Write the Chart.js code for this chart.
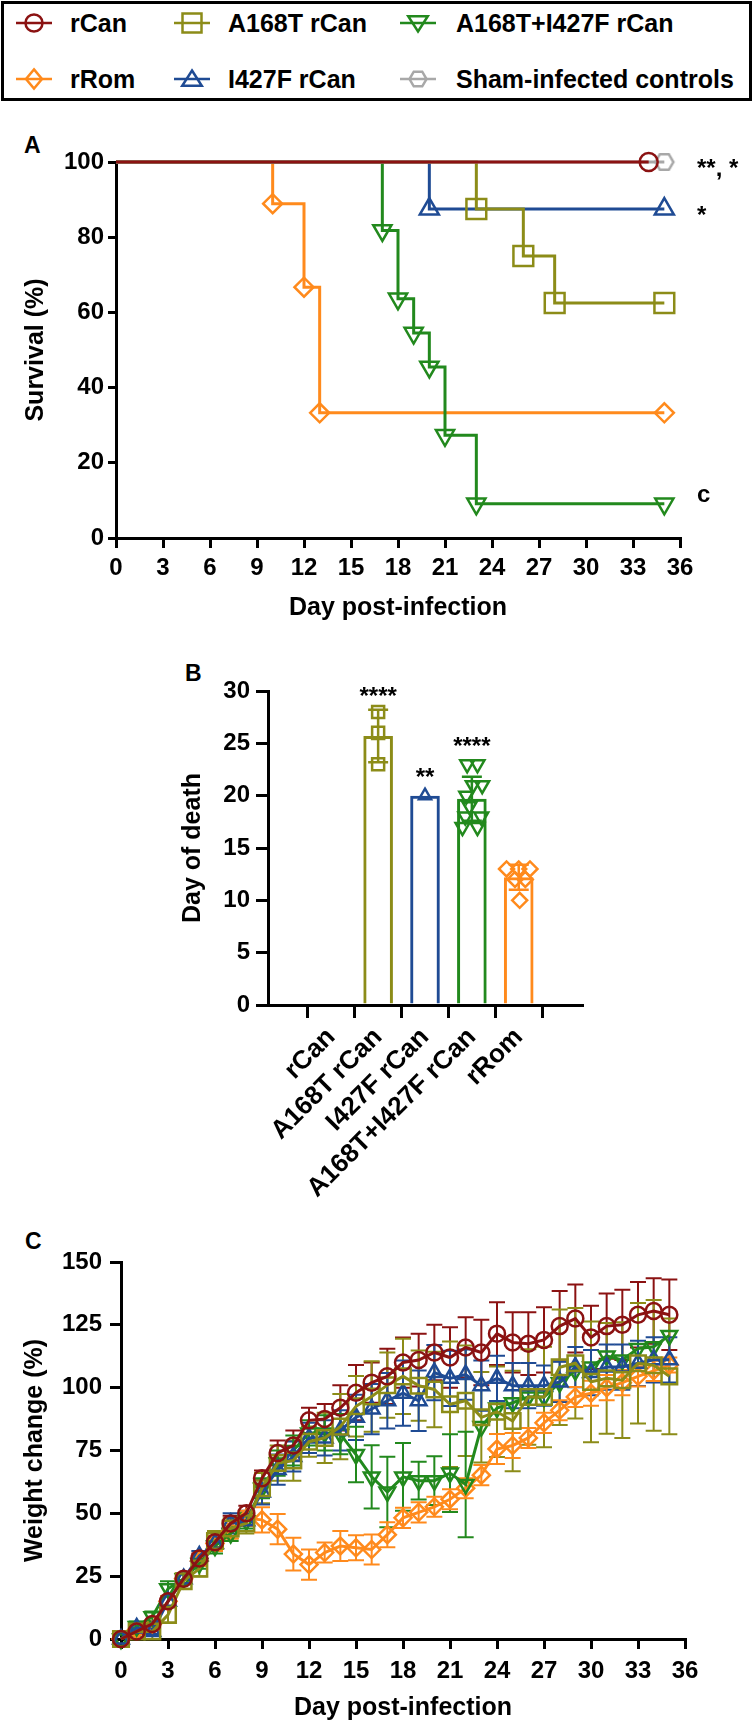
<!DOCTYPE html>
<html lang="en">
<head>
<meta charset="UTF-8">
<title>rCan / rRom survival, day of death and weight change</title>
<script src="https://cdn.jsdelivr.net/npm/chart.js@4.4.1/dist/chart.umd.min.js"></script>
<style>
  body { margin: 0; background: #fff; }
  #page { position: relative; width: 753px; height: 1723px; overflow: hidden;
          font-family: "Liberation Sans", Arial, sans-serif; font-weight: bold; color: #000; }
  .legend { position: absolute; left: 1px; top: 1px; width: 745px; height: 94px; border: 3px solid #000; }
  .item { position: absolute; height: 30px; }
  .item canvas { position: absolute; left: 0; top: 0; }
  .item span { position: absolute; top: 0; font-size: 25px; line-height: 30px; white-space: nowrap; }
  .plabel { position: absolute; font-size: 23px; line-height: 26px; }
  .chart { position: absolute; left: 0; }
</style>
</head>
<body>
<div id="page">
  <div class="legend" id="legend"></div>

  <div class="plabel" style="left:24px;top:132px;">A</div>
  <canvas id="chartA" class="chart" width="753" height="505" style="top:125px;"></canvas>

  <div class="plabel" style="left:185px;top:660px;">B</div>
  <canvas id="chartB" class="chart" width="753" height="580" style="top:640px;"></canvas>

  <div class="plabel" style="left:25px;top:1228px;">C</div>
  <canvas id="chartC" class="chart" width="753" height="503" style="top:1220px;"></canvas>
</div>

<script>
// ---------- colours ----------
var colRCan = '#8b1212';
var colA168T = '#8c8c18';
var colDouble = '#22891d';
var colRRom = '#ff8a1c';
var colI427F = '#1f4b94';
var colSham = '#a8a8a8';

// ---------- legend ----------
var legendNames = ['rCan', 'A168T rCan', 'A168T+I427F rCan', 'rRom', 'I427F rCan', 'Sham-infected controls'];
var legendColors = [colRCan, colA168T, colDouble, colRRom, colI427F, colSham];
var legendStyles = ['circle', 'rect', 'triangleDown', 'diamond', 'triangle', 'hexagon'];

// ---------- A: survival (Kaplan-Meier steps) ----------
var survRCanX = [0, 34];
var survRCanY = [100, 100];
var survShamX = [0, 35];
var survShamY = [100, 100];
var survRRomX = [0, 10, 12, 13, 35];
var survRRomY = [100, 88.9, 66.7, 33.3, 33.3];
var survA168TX = [0, 23, 26, 28, 35];
var survA168TY = [100, 87.5, 75, 62.5, 62.5];
var survI427FX = [0, 20, 35];
var survI427FY = [100, 87.5, 87.5];
var survDoubleX = [0, 17, 18, 19, 20, 21, 23, 35];
var survDoubleY = [100, 81.8, 63.6, 54.5, 45.5, 27.3, 9.1, 9.1];
var survNoteText = ['**, *', '*', 'c'];
var survNoteLevel = [100, 87.5, 9.1];

// ---------- B: day of death ----------
var deathGroups = ['rCan', 'A168T rCan', 'I427F rCan', 'A168T+I427F rCan', 'rRom'];
var deathMean = [null, 25.7, 20, 19.7, 12.2];
var deathSD = [0, 2.5, 0, 2.1, 1.2];
var deathA168T = [23, 26, 28];
var deathI427F = [20];
var deathDouble = [17, 17, 18, 18, 19, 20, 21, 21, 23, 23];
var jitterDouble = [-0.2, 0.12, -0.14, 0.2, -0.05, -0.12, 0.02, 0.22, -0.1, 0.12];
var deathRRom = [10, 12, 12, 13, 13, 13];
var jitterRRom = [0.02, -0.08, 0.14, -0.26, 0, 0.24];
var deathSig = ['', '****', '**', '****', ''];
var deathSigLevel = [null, 30.1, 22.3, 25.3, null];

// ---------- C: weight change ----------
var weightDays = [0, 1, 2, 3, 4, 5, 6, 7, 8, 9, 10, 11, 12, 13, 14, 15, 16, 17,
                  18, 19, 20, 21, 22, 23, 24, 25, 26, 27, 28, 29, 30, 31, 32, 33, 34, 35];
var wRCan = [0, 3, 6, 15, 24, 32, 38.5, 46, 50, 64, 74, 77, 87, 87.5, 92, 98, 102, 104.5,
             110, 111, 114, 112, 116, 114, 121.5, 118, 117.5, 119, 124.5, 127.5, 120, 124.5, 125, 129, 130.5, 129];
var wRCanSD = [0, 1, 1, 2, 2, 2, 2, 3, 3, 3, 5, 6, 5, 6, 9, 11, 8, 11,
               10, 10.5, 11, 12, 12, 13, 12.5, 12, 12.5, 13, 14, 13.5, 12.6, 13, 14, 13, 13, 14];
var wA168T = [0, 3, 3, 9.6, 23, 28, 39, 44, 46, 60, 70, 71, 78.5, 80, 84.5, 92.6, 96.5, 101,
              104.5, 100.8, 99.3, 93.4, 94.8, 88.2, 90.4, 86.7, 96.3, 96.3, 108.1, 109.7, 102.3, 103.7, 103, 109.7, 108.9, 104.5];
var wA168TSD = [0, 2, 3, 3, 3, 3, 4, 4, 4, 6, 7, 8, 6, 10, 13, 12, 14, 13,
                15, 14, 15, 25, 22, 18, 18, 20, 19, 20, 23, 22, 24, 22, 23, 24, 26, 23];
var wI427F = [0, 4.4, 3, 15, 24, 33, 38, 46, 47, 58.5, 67.4, 72.6, 80, 80, 83, 88.2, 91.5, 94.8,
              97.8, 94.8, 106, 103.7, 105.2, 100.8, 103.7, 100.8, 100.8, 100.8, 102.3, 108.2, 106, 108.2, 108.2, 109.7, 111.1, 111.1];
var wI427FSD = [0, 1, 1, 2, 2, 2, 3, 4, 4, 5, 6, 6, 6, 7, 8, 9, 10, 11,
                13, 12, 11, 11, 10, 10, 9, 9, 9, 8, 8, 8, 9, 9, 9, 9, 9, 9];
var wDouble = [0, 5, 8.9, 20, 24, 30, 37, 42, 47, 60, 70, 75, 82, 82, 81.5, 73.4, 64.5, 58.5,
               64.5, 63, 63, 66, 61.5, 84.5, 91.9, 94, 96.3, 96.3, 102, 106.7, 108.2, 112.6, 111, 115.6, 116.3, 120.8];
var wDoubleSD = [0, 2, 2, 3, 2, 2, 3, 3, 3, 4, 5, 6, 5, 7, 8, 11, 12.6, 14,
                 13.5, 7.5, 9.7, 15.5, 21, 0, 0, 0, 0, 0, 0, 0, 0, 0, 0, 0, 0, 0];
var wRRom = [0, 3.7, 6, 15, 24, 31, 38, 43, 48, 47.4, 43.7, 33.8, 29.6, 34.4, 37, 36.3, 35.6, 41.5,
             48.2, 50.4, 52.6, 55.6, 60, 65.2, 75.6, 77, 80, 86, 91, 96.3, 97.8, 100, 102, 104.5, 106.7, 109];
var wRRomSD = [0, 1, 1, 2, 2, 2, 3, 3, 3, 5, 6, 6.5, 6, 4, 6, 5, 6, 5,
               4, 4, 4, 4, 4, 4, 6, 5, 4, 4, 4, 4, 5, 5, 5, 4, 4, 3];

// ---------- helpers ----------
var FONT = '"Liberation Sans", Arial, sans-serif';
Chart.defaults.font.family = FONT;
Chart.defaults.font.weight = 'bold';
Chart.defaults.color = '#000';

// open marker used in the legend and for the hexagon point style
function drawSymbol(g, style, x, y, r, color, lw) {
  g.save();
  g.strokeStyle = color;
  g.lineWidth = lw;
  g.beginPath();
  if (style === 'circle') {
    g.arc(x, y, r, 0, Math.PI * 2);
  } else if (style === 'rect') {
    g.rect(x - r, y - r, 2 * r, 2 * r);
  } else if (style === 'diamond') {
    g.moveTo(x, y - r * 1.2); g.lineTo(x + r, y); g.lineTo(x, y + r * 1.2); g.lineTo(x - r, y);
  } else if (style === 'triangle') {
    g.moveTo(x, y - r); g.lineTo(x + r * 1.15, y + r * 0.8); g.lineTo(x - r * 1.15, y + r * 0.8);
  } else if (style === 'triangleDown') {
    g.moveTo(x, y + r); g.lineTo(x + r * 1.15, y - r * 0.8); g.lineTo(x - r * 1.15, y - r * 0.8);
  } else if (style === 'hexagon') {
    for (var k = 0; k < 6; k++) {
      var a = k * Math.PI / 3;
      if (k === 0) g.moveTo(x + r * Math.cos(a), y + r * Math.sin(a));
      else g.lineTo(x + r * Math.cos(a), y + r * Math.sin(a));
    }
  }
  g.closePath();
  g.stroke();
  g.restore();
}

function hexagonImage(color, r) {
  var c = document.createElement('canvas');
  c.width = c.height = 2 * r + 6;
  drawSymbol(c.getContext('2d'), 'hexagon', r + 3, r + 3, r, color, 2.5);
  return c;
}

// legend boxes
var legendCols = [16, 174, 400];
var legendText = [70, 228, 456];
var legendRows = [23, 79];
var legendEl = document.getElementById('legend');
legendNames.forEach(function (name, i) {
  var col = i % 3, row = Math.floor(i / 3);
  var div = document.createElement('div');
  div.className = 'item';
  div.style.left = (legendCols[col] - 4) + 'px';
  div.style.top = (legendRows[row] - 15 - 4) + 'px';
  var cv = document.createElement('canvas');
  cv.width = 44; cv.height = 30;
  var g = cv.getContext('2d');
  g.strokeStyle = legendColors[i];
  g.lineWidth = 2.5;
  g.beginPath(); g.moveTo(0, 15); g.lineTo(36, 15); g.stroke();
  var r = legendStyles[i] === 'rect' ? 9.5 : (legendStyles[i] === 'diamond' ? 8 : 8.5);
  drawSymbol(g, legendStyles[i], 18, 15, r, legendColors[i], 2.5);
  var sp = document.createElement('span');
  sp.textContent = name;
  sp.style.left = (legendText[col] - legendCols[col]) + 'px';
  div.appendChild(cv);
  div.appendChild(sp);
  legendEl.appendChild(div);
});

function pts(xs, ys) {
  return xs.map(function (x, i) { return { x: x, y: ys[i] }; });
}

function axisBase(size) {
  return {
    border: { display: true, width: 3, color: '#000' },
    grid: { display: true, drawOnChartArea: false, drawTicks: true, tickLength: size, color: '#000', lineWidth: 3 },
    ticks: { color: '#000', font: { size: 24, weight: 'bold' } }
  };
}

// error bars (mean +/- SD) read from dataset.sd
var errorBarPlugin = {
  id: 'errorBars',
  draw: function (chart, opts) {
    var ctx = chart.ctx, xs = chart.scales.x, ys = chart.scales.y;
    chart.data.datasets.forEach(function (ds) {
      if (!ds.sd) return;
      ds.data.forEach(function (p, i) {
        var sd = ds.sd[i];
        if (!sd || p.y == null) return;
        var x = xs.getPixelForValue(p.x);
        var top = ys.getPixelForValue(p.y + sd);
        var bot = ys.getPixelForValue(p.y - sd);
        ctx.save();
        ctx.strokeStyle = Array.isArray(ds.borderColor) ? ds.borderColor[i] : ds.borderColor;
        ctx.lineWidth = opts.width;
        ctx.beginPath();
        ctx.moveTo(x, top); ctx.lineTo(x, bot);
        ctx.moveTo(x - opts.cap, top); ctx.lineTo(x + opts.cap, top);
        ctx.moveTo(x - opts.cap, bot); ctx.lineTo(x + opts.cap, bot);
        ctx.stroke();
        ctx.restore();
      });
    });
  },
  beforeDatasetsDraw: function (chart, args, opts) { if (!opts.front) this.draw(chart, opts); },
  afterDatasetsDraw: function (chart, args, opts) { if (opts.front) this.draw(chart, opts); }
};

// ---------- chart A ----------
function survivalSet(label, xs, ys, color, style, radius, rot, order) {
  return {
    label: label,
    data: pts(xs, ys),
    borderColor: color,
    backgroundColor: 'rgba(0,0,0,0)',
    borderWidth: 3,
    stepped: true,
    pointStyle: style,
    pointRotation: rot,
    pointRadius: xs.map(function (x, i) { return i === 0 ? 0 : radius; }),
    pointBorderWidth: 2.5,
    pointBorderColor: color,
    pointBackgroundColor: 'rgba(0,0,0,0)',
    order: order,
    clip: false
  };
}

var survNotes = {
  id: 'survNotes',
  afterDraw: function (chart) {
    var ctx = chart.ctx, ys = chart.scales.y;
    ctx.save();
    ctx.font = 'bold 24px ' + FONT;
    ctx.fillStyle = '#000';
    ctx.textAlign = 'left';
    ctx.textBaseline = 'middle';
    survNoteText.forEach(function (t, i) {
      var y = ys.getPixelForValue(survNoteLevel[i]);
      ctx.fillText(t, chart.chartArea.right + 17, t === 'c' ? y - 8 : y + 7);
    });
    ctx.restore();
  }
};

var axA_x = axisBase(10);
axA_x.type = 'linear';
axA_x.min = 0; axA_x.max = 36;
axA_x.ticks.stepSize = 3;
axA_x.ticks.padding = 6;
axA_x.ticks.maxRotation = 0;
axA_x.ticks.autoSkip = false;
axA_x.title = { display: true, text: 'Day post-infection', color: '#000',
                font: { size: 25, weight: 'bold' }, padding: { top: 0, bottom: 7 } };
axA_x.afterFit = function (s) { s.height = 92; };

var axA_y = axisBase(8);
axA_y.min = 0; axA_y.max = 100;
axA_y.ticks.stepSize = 20;
axA_y.ticks.padding = 4;
axA_y.title = { display: true, text: 'Survival (%)', color: '#000',
                font: { size: 25, weight: 'bold' }, padding: { top: 21, bottom: 0 } };
axA_y.afterFit = function (s) { s.width = 116; };

new Chart(document.getElementById('chartA'), {
  type: 'line',
  data: {
    datasets: [
      survivalSet('rCan', survRCanX, survRCanY, colRCan, 'circle', 9, 0, 1),
      survivalSet('Sham-infected controls', survShamX, survShamY, colSham, hexagonImage(colSham, 9), 9, 0, 2),
      survivalSet('A168T rCan', survA168TX, survA168TY, colA168T, 'rect', 14, 0, 3),
      survivalSet('I427F rCan', survI427FX, survI427FY, colI427F, 'triangle', 11, 0, 4),
      survivalSet('A168T+I427F rCan', survDoubleX, survDoubleY, colDouble, 'triangle', 10.5, 180, 5),
      survivalSet('rRom', survRRomX, survRRomY, colRRom, 'rectRot', 9.5, 0, 6)
    ]
  },
  options: {
    responsive: false,
    animation: false,
    layout: { padding: { top: 37, right: 73, left: 0, bottom: 0 } },
    plugins: { legend: { display: false }, tooltip: { enabled: false } },
    scales: { x: axA_x, y: axA_y }
  },
  plugins: [survNotes]
});

// ---------- chart B ----------
var deathNotes = {
  id: 'deathNotes',
  afterDraw: function (chart) {
    var ctx = chart.ctx, xs = chart.scales.x, ys = chart.scales.y;
    ctx.save();
    ctx.font = 'bold 24px ' + FONT;
    ctx.fillStyle = '#000';
    ctx.textAlign = 'center';
    ctx.textBaseline = 'middle';
    deathSig.forEach(function (t, i) {
      if (!t) return;
      ctx.fillText(t, xs.getPixelForValue(i), ys.getPixelForValue(deathSigLevel[i]) + 7);
    });
    ctx.restore();
  }
};

var groupColors = [colRCan, colA168T, colI427F, colDouble, colRRom];

function dotSet(label, groupIndex, values, jitter, color, style, radius, rot) {
  return {
    type: 'scatter',
    label: label,
    data: values.map(function (v, i) { return { x: groupIndex + (jitter ? jitter[i] : 0), y: v }; }),
    borderColor: color,
    backgroundColor: 'rgba(0,0,0,0)',
    pointStyle: style,
    pointRotation: rot,
    pointRadius: radius,
    pointBorderWidth: 2.5,
    order: 1,
    clip: false
  };
}

var axB_x = axisBase(13);
axB_x.type = 'linear';
axB_x.min = -0.68; axB_x.max = 4.68;
axB_x.ticks.stepSize = 1;
axB_x.ticks.includeBounds = false;
axB_x.ticks.autoSkip = false;
axB_x.ticks.minRotation = 45;
axB_x.ticks.maxRotation = 45;
axB_x.ticks.padding = 4;
axB_x.ticks.font = { size: 26, weight: 'bold' };
axB_x.ticks.callback = function (v) { return deathGroups[v]; };
axB_x.afterFit = function (s) { s.height = 215; };

var axB_y = axisBase(12);
axB_y.min = 0; axB_y.max = 30;
axB_y.ticks.stepSize = 5;
axB_y.ticks.padding = 6;
axB_y.title = { display: true, text: 'Day of death', color: '#000',
                font: { size: 25, weight: 'bold' }, padding: { top: 178, bottom: 0 } };
axB_y.afterFit = function (s) { s.width = 268; };

new Chart(document.getElementById('chartB'), {
  type: 'bar',
  data: {
    datasets: [
      {
        label: 'Mean day of death',
        data: deathMean.map(function (m, i) { return { x: i, y: m }; }),
        sd: deathSD,
        borderColor: groupColors,
        backgroundColor: 'rgba(0,0,0,0)',
        borderWidth: 3,
        barPercentage: 0.79,
        categoryPercentage: 0.8,
        order: 5
      },
      dotSet('A168T rCan', 1, deathA168T, null, colA168T, 'rect', 8.5, 0),
      dotSet('I427F rCan', 2, deathI427F, null, colI427F, 'triangle', 7, 0),
      dotSet('A168T+I427F rCan', 3, deathDouble, jitterDouble, colDouble, 'triangle', 8, 180),
      dotSet('rRom', 4, deathRRom, jitterRRom, colRRom, 'rectRot', 7.5, 0)
    ]
  },
  options: {
    responsive: false,
    animation: false,
    layout: { padding: { top: 51, right: 171, left: 0, bottom: 0 } },
    plugins: {
      legend: { display: false }, tooltip: { enabled: false },
      errorBars: { width: 2.5, cap: 10, front: true }
    },
    scales: { x: axB_x, y: axB_y }
  },
  plugins: [errorBarPlugin, deathNotes]
});

// ---------- chart C ----------
function weightSet(label, ys, sds, color, style, radius, rot, order) {
  return {
    label: label,
    data: pts(weightDays, ys),
    sd: sds,
    borderColor: color,
    backgroundColor: 'rgba(0,0,0,0)',
    borderWidth: 3,
    pointStyle: style,
    pointRotation: rot,
    pointRadius: radius,
    pointBorderWidth: 2.5,
    pointBorderColor: color,
    pointBackgroundColor: 'rgba(0,0,0,0)',
    order: order,
    clip: false
  };
}

var axC_x = axisBase(10);
axC_x.type = 'linear';
axC_x.min = 0; axC_x.max = 36;
axC_x.ticks.stepSize = 3;
axC_x.ticks.padding = 8;
axC_x.ticks.maxRotation = 0;
axC_x.ticks.autoSkip = false;
axC_x.title = { display: true, text: 'Day post-infection', color: '#000',
                font: { size: 25, weight: 'bold' }, padding: { top: 0, bottom: 0 } };
axC_x.afterFit = function (s) { s.height = 84; };

var axC_y = axisBase(11);
axC_y.min = 0; axC_y.max = 150;
axC_y.ticks.stepSize = 25;
axC_y.ticks.padding = 8;
axC_y.title = { display: true, text: 'Weight change (%)', color: '#000',
                font: { size: 25, weight: 'bold' }, padding: { top: 20, bottom: 0 } };
axC_y.afterFit = function (s) { s.width = 121; };

new Chart(document.getElementById('chartC'), {
  type: 'line',
  data: {
    datasets: [
      weightSet('rCan', wRCan, wRCanSD, colRCan, 'circle', 8, 0, 1),
      weightSet('A168T rCan', wA168T, wA168TSD, colA168T, 'rect', 11, 0, 2),
      weightSet('I427F rCan', wI427F, wI427FSD, colI427F, 'triangle', 9, 0, 3),
      weightSet('A168T+I427F rCan', wDouble, wDoubleSD, colDouble, 'triangle', 9, 180, 4),
      weightSet('rRom', wRRom, wRRomSD, colRRom, 'rectRot', 8.5, 0, 5)
    ]
  },
  options: {
    responsive: false,
    animation: false,
    layout: { padding: { top: 42, right: 68, left: 0, bottom: 0 } },
    plugins: {
      legend: { display: false }, tooltip: { enabled: false },
      errorBars: { width: 2, cap: 8, front: false }
    },
    scales: { x: axC_x, y: axC_y }
  },
  plugins: [errorBarPlugin]
});
</script>
</body>
</html>
